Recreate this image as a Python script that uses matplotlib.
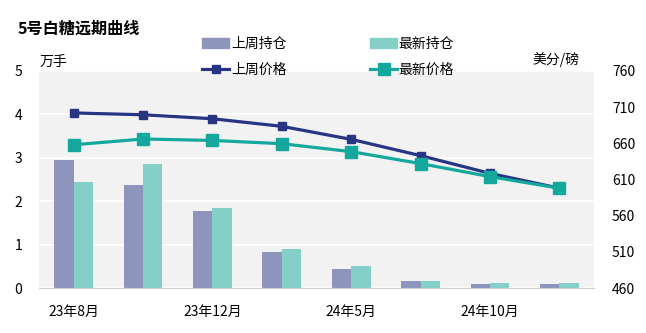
import matplotlib
matplotlib.use("Agg")
import matplotlib.pyplot as plt
import numpy as np
from matplotlib.patches import Patch
from matplotlib.lines import Line2D

plt.rcParams['font.family'] = ['Noto Sans CJK SC', 'DejaVu Sans']

months = ["23年8月", "", "23年12月", "", "24年5月", "", "24年10月", ""]
last_oi = [2.95, 2.37, 1.77, 0.83, 0.44, 0.16, 0.09, 0.09]
new_oi = [2.44, 2.86, 1.84, 0.90, 0.51, 0.16, 0.11, 0.11]
last_price = [702, 699.5, 694, 683.5, 665.5, 643, 618.5, 598]
new_price = [658, 666, 664, 659.5, 648.5, 632, 614, 598]

c_bar1 = "#8e95bc"
c_bar2 = "#84cfc8"
c_line1 = "#283583"
c_line2 = "#14a89d"

fig = plt.figure(figsize=(6.46, 3.33), dpi=100)
ax = fig.add_axes([39/646, 45/333, 555/646, 217/333])
ax.set_facecolor("#f2f2f2")

x = np.arange(len(months))
w = 0.28
ax.bar(x - w/2, last_oi, w, color=c_bar1, zorder=2)
ax.bar(x + w/2, new_oi, w, color=c_bar2, zorder=2)
ax.set_xlim(-0.5, len(months) - 0.5)
ax.set_ylim(0, 5)
ax.set_yticks([0, 1, 2, 3, 4, 5])
ax.grid(axis="y", color="white", linewidth=1.2, zorder=1)
ax.set_axisbelow(True)
ax.set_xticks(x)
ax.set_xticklabels(months, fontsize=10)
ax.tick_params(length=0, labelsize=10, pad=12)
ax.tick_params(axis="y", pad=12)
for s in ["top", "right", "left"]:
    ax.spines[s].set_visible(False)
ax.spines["bottom"].set_color("#d0d0d0")

ax2 = ax.twinx()
ax2.plot(x, last_price, color=c_line1, linewidth=2.3, marker="s", markersize=6, zorder=3)
ax2.plot(x, new_price, color=c_line2, linewidth=2.3, marker="s", markersize=8.5, zorder=3)
ax2.set_ylim(460, 760)
ax2.set_yticks(np.arange(460, 761, 50))
ax2.tick_params(length=0, labelsize=10, pad=13)
for s in ["top", "right", "left", "bottom"]:
    ax2.spines[s].set_visible(False)

fig.text(18/646, 1 - 29/333, "5号白糖远期曲线", fontsize=11.6, fontweight="bold", va="center")
fig.text(40/646, 1 - 62/333, "万手", fontsize=10, va="center")
fig.text(580/646, 1 - 60/333, "美分/磅", fontsize=10, va="center", ha="right")

handles = [
    Patch(color=c_bar1), Line2D([], [], color=c_line1, linewidth=2.3, marker="s", markersize=6),
    Patch(color=c_bar2), Line2D([], [], color=c_line2, linewidth=2.3, marker="s", markersize=8.5),
]
labels = ["上周持仓", "上周价格", "最新持仓", "最新价格"]
fig.legend(handles, labels, ncol=2, loc="center", bbox_to_anchor=(328/646, 1 - 57/333),
           frameon=False, fontsize=10, handlelength=2.0, handletextpad=0.1,
           columnspacing=6.0, labelspacing=0.9)

fig.savefig("out.png", dpi=100)
